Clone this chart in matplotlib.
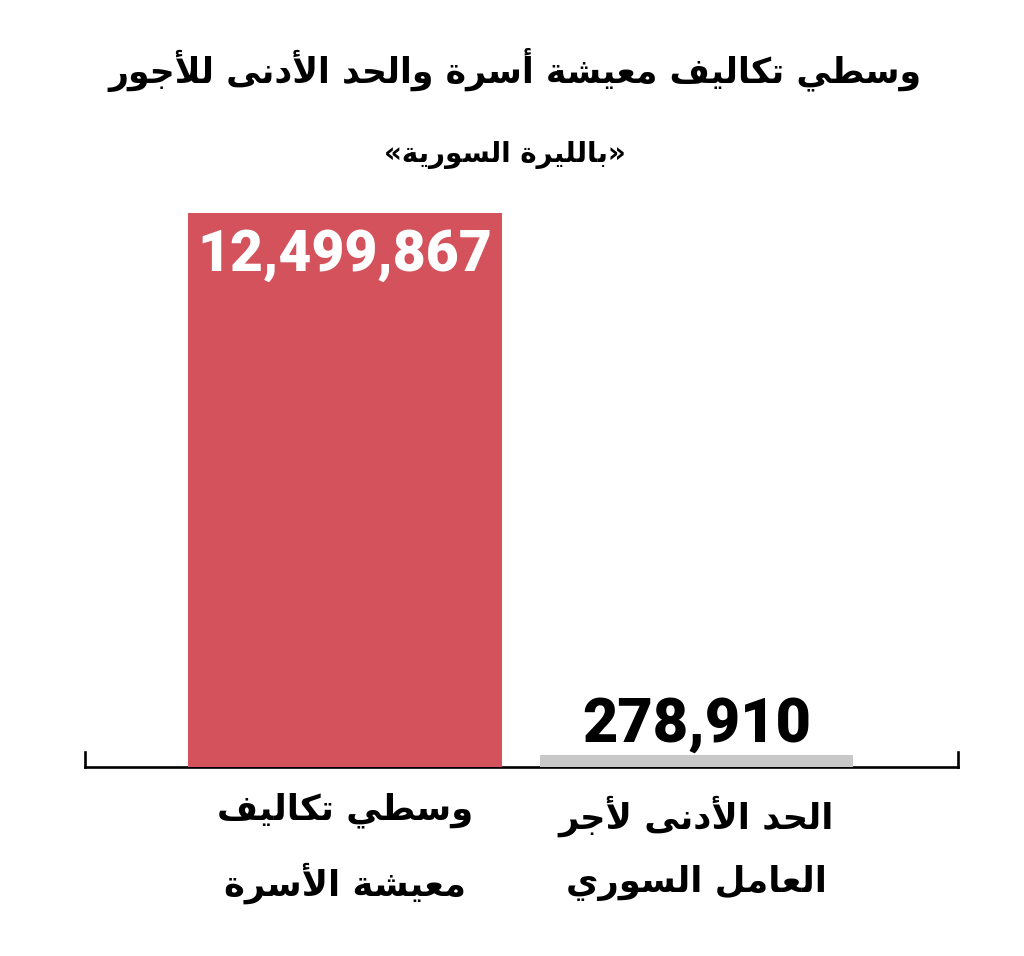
import numpy as np
import matplotlib.pyplot as plt
import matplotlib.transforms as mtransforms

# --- data ---
categories = ["وسطي تكاليف\nمعيشة الأسرة", "الحد الأدنى لأجر\nالعامل السوري"]
values = [12499867, 278910]
value_labels = ["12,499,867", "278,910"]
bar_colors = ["#d4525c", "#c8c8c8"]
title = "وسطي تكاليف معيشة أسرة والحد الأدنى للأجور"
subtitle = "بالليرة السورية"

# matplotlib 3.10 has no Arabic shaping, so map letters to presentation forms
FORMS = {
    'ء': (0xFE80, 1), 'آ': (0xFE81, 2), 'أ': (0xFE83, 2), 'ؤ': (0xFE85, 2),
    'إ': (0xFE87, 2), 'ئ': (0xFE89, 4), 'ا': (0xFE8D, 2), 'ب': (0xFE8F, 4),
    'ة': (0xFE93, 2), 'ت': (0xFE95, 4), 'ث': (0xFE99, 4), 'ج': (0xFE9D, 4),
    'ح': (0xFEA1, 4), 'خ': (0xFEA5, 4), 'د': (0xFEA9, 2), 'ذ': (0xFEAB, 2),
    'ر': (0xFEAD, 2), 'ز': (0xFEAF, 2), 'س': (0xFEB1, 4), 'ش': (0xFEB5, 4),
    'ص': (0xFEB9, 4), 'ض': (0xFEBD, 4), 'ط': (0xFEC1, 4), 'ظ': (0xFEC5, 4),
    'ع': (0xFEC9, 4), 'غ': (0xFECD, 4), 'ف': (0xFED1, 4), 'ق': (0xFED5, 4),
    'ك': (0xFED9, 4), 'ل': (0xFEDD, 4), 'م': (0xFEE1, 4), 'ن': (0xFEE5, 4),
    'ه': (0xFEE9, 4), 'و': (0xFEED, 2), 'ى': (0xFEEF, 2), 'ي': (0xFEF1, 4),
}
LAM_ALEF = {'ا': 0xFEFB, 'أ': 0xFEF7, 'آ': 0xFEF5, 'إ': 0xFEF9}


def joins(u):
    return u is not None and (u[0] == 'LA' or (u[1] in FORMS and FORMS[u[1]][1] > 1))


def shape_line(text):
    units = []
    i = 0
    while i < len(text):
        c = text[i]
        if c == 'ل' and i + 1 < len(text) and text[i + 1] in LAM_ALEF:
            units.append(('LA', text[i + 1]))
            i += 2
        else:
            units.append(('C', c))
            i += 1
    out = []
    for k, (kind, c) in enumerate(units):
        prev = units[k - 1] if k > 0 else None
        nxt = units[k + 1] if k + 1 < len(units) else None
        prev_dual = prev is not None and prev[0] == 'C' and prev[1] in FORMS and FORMS[prev[1]][1] == 4
        if kind == 'LA':
            out.append(chr(LAM_ALEF[c] + (1 if prev_dual else 0)))
            continue
        if c not in FORMS:
            out.append(c)
            continue
        base, n = FORMS[c]
        jp = prev_dual and n > 1
        jn = n == 4 and joins(nxt)
        if jp and jn:
            off = 3
        elif jp:
            off = 1
        elif jn:
            off = 2
        else:
            off = 0
        out.append(chr(base + off))
    return ''.join(reversed(out))


def shape(text):
    return "\n".join(shape_line(line) for line in text.split("\n"))


ar_font = ['DejaVu Sans']
num_font = ['Roboto', 'Liberation Sans', 'DejaVu Sans']

fig = plt.figure(figsize=(10.24, 9.56), dpi=100)
W, H = 1024, 956
ax = fig.add_axes([85 / W, 1 - 767 / H, (958 - 85) / W, (767 - 213) / H])

x = np.arange(len(values))
ax.bar(x, values, width=0.893, color=bar_colors, zorder=1)
ax.set_xlim(-0.7397, 1.744)
ax.set_ylim(0, values[0])

ax.spines['top'].set_visible(False)
for s in ['left', 'right', 'bottom']:
    ax.spines[s].set_linewidth(1.9)
    ax.spines[s].set_color('black')
    ax.spines[s].set_zorder(0)
ax.spines['left'].set_bounds(0, 330000)
ax.spines['right'].set_bounds(0, 330000)
ax.set_xticks([])
ax.set_yticks([])
ax.patch.set_visible(False)

# value labels
ax.text(x[0], values[0] - 950000, value_labels[0], ha='center', va='center',
        color='white', fontsize=41, fontweight='black', family=num_font)
ax.text(x[1], values[1] + 680000, value_labels[1], ha='center', va='center',
        color='black', fontsize=44, fontweight='black', family=num_font)

# category labels
trans = mtransforms.blended_transform_factory(ax.transData, fig.transFigure)
for xi, cat in zip(x, categories):
    ax.text(xi + 0.0, 1 - 848 / H, shape(cat), ha='center', va='center',
            transform=trans, fontsize=25.5, fontweight='bold', family=ar_font,
            linespacing=2.05)

fig.text(515 / W, 1 - 70 / H, shape(title), ha='center', va='center',
         fontsize=25, fontweight='bold', family=ar_font)
fig.text(505 / W, 1 - 155 / H, "«" + shape(subtitle) + "»", ha='center', va='center',
         fontsize=20, fontweight='bold', family=ar_font)

fig.savefig('out.png', dpi=100, facecolor='white')
